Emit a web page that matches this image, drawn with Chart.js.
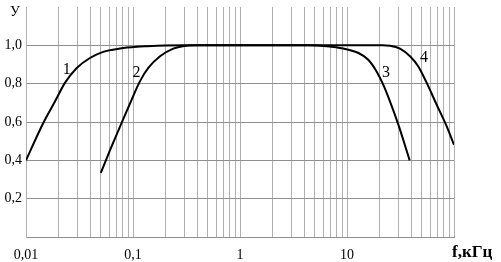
<!DOCTYPE html>
<html>
<head>
<meta charset="utf-8">
<script src="https://cdn.jsdelivr.net/npm/chart.js@4.4.0/dist/chart.umd.min.js"></script>
<style>
  html, body { margin: 0; padding: 0; background: #fff; }
  #wrap { width: 501px; height: 262px; }
</style>
</head>
<body>
<div id="wrap"><canvas id="graf"></canvas></div>
<script>
// datos
const curva1F = [0.01, 0.0145, 0.0187, 0.0231, 0.0298, 0.0396, 0.0527, 0.0757, 0.108, 0.134, 0.2, 0.3, 1];
const curva1Y = [0.4, 0.595, 0.708, 0.804, 0.882, 0.934, 0.966, 0.983, 0.992, 0.995, 0.999, 1.0, 1.0];
const curva2F = [0.05, 0.061, 0.0783, 0.0972, 0.116, 0.139, 0.179, 0.238, 0.318, 0.4, 1];
const curva2Y = [0.334, 0.453, 0.595, 0.717, 0.812, 0.882, 0.943, 0.983, 0.998, 1.0, 1.0];
const curva3F = [1, 4.3, 6.46, 9.22, 12.8, 15.8, 18.9, 21.8, 25.2, 30.2, 38.5];
const curva3Y = [1.0, 1.0, 0.995, 0.983, 0.96, 0.925, 0.864, 0.795, 0.708, 0.586, 0.4];
const curva4F = [1, 21.6, 25.2, 31.3, 38.8, 46.4, 55.6, 68.9, 85.5, 100];
const curva4Y = [1.0, 1.0, 0.998, 0.983, 0.943, 0.89, 0.804, 0.69, 0.577, 0.48];

const etiquetasX = { 0.01: '0,01', 0.1: '0,1', 1: '1', 10: '10' };
const ticksY = [0, 0.2, 0.4, 0.6, 0.8, 1.0];
const etiquetasY = ['', '0,2', '0,4', '0,6', '0,8', '1,0'];

const numCurva = ['1', '2', '3', '4'];
const numF = [0.024, 0.108, 23.1, 52.5];
const numY = [0.873, 0.856, 0.856, 0.934];

const serif = '"Liberation Serif", "DejaVu Serif", serif';

function puntos(fs, ys) {
  return fs.map((f, i) => ({ x: f, y: ys[i] }));
}

function serie(fs, ys) {
  return {
    data: puntos(fs, ys),
    borderColor: '#000',
    borderWidth: 2,
    pointRadius: 0,
    fill: false,
    cubicInterpolationMode: 'monotone'
  };
}

// rejilla logarítmica: 1..9 por década
const ticksX = [];
for (let e = -2; e < 2; e++) {
  for (let k = 1; k < 10; k++) ticksX.push(+(k * Math.pow(10, e)).toPrecision(3));
}
ticksX.push(100);

// textos: У, f,кГц y números de curvas
const textos = {
  id: 'textos',
  afterDraw(chart) {
    const c = chart.ctx;
    const a = chart.chartArea;
    const sx = chart.scales.x, sy = chart.scales.y;
    c.save();
    c.fillStyle = '#000';
    c.textBaseline = 'middle';
    c.font = '16px ' + serif;
    c.textAlign = 'center';
    numCurva.forEach((t, i) => {
      c.fillText(t, sx.getPixelForValue(numF[i]), sy.getPixelForValue(numY[i]));
    });
    c.font = '14px ' + serif;
    c.fillText('У', 15, 12);
    c.font = 'bold 17px ' + serif;
    c.textAlign = 'left';
    c.fillText('f,кГц', a.right - 2, 253);
    c.restore();
  }
};

const ctx = document.getElementById('graf');
new Chart(ctx, {
  type: 'line',
  data: {
    datasets: [
      serie(curva1F, curva1Y),
      serie(curva2F, curva2Y),
      serie(curva3F, curva3Y),
      serie(curva4F, curva4Y)
    ]
  },
  options: {
    responsive: true,
    maintainAspectRatio: false,
    animation: false,
    layout: { padding: { top: 7, right: 47, left: 0, bottom: 0 } },
    plugins: { legend: { display: false }, tooltip: { enabled: false } },
    scales: {
      x: {
        type: 'logarithmic',
        min: 0.01,
        max: 100,
        afterBuildTicks: s => { s.ticks = ticksX.map(v => ({ value: v })); },
        afterFit: s => { s.height = 25; s.paddingLeft = 0; s.paddingRight = 0; },
        grid: { color: '#b0b0b0', lineWidth: 1, drawTicks: false },
        border: { color: '#909090', width: 1 },
        ticks: {
          autoSkip: false,
          maxRotation: 0,
          padding: 10,
          color: '#000',
          font: { family: serif, size: 14 },
          callback: v => etiquetasX[v] || ''
        }
      },
      y: {
        min: 0,
        max: 1.2,
        afterBuildTicks: s => { s.ticks = ticksY.map(v => ({ value: v })); },
        afterFit: s => { s.width = 26; s.paddingTop = 0; s.paddingBottom = 0; },
        grid: { color: '#909090', lineWidth: 1, drawTicks: false },
        border: { color: '#b0b0b0', width: 1 },
        ticks: {
          padding: 4,
          color: '#000',
          font: { family: serif, size: 14 },
          callback: (v, i) => etiquetasY[i]
        }
      }
    }
  },
  plugins: [textos]
});
</script>
</body>
</html>
